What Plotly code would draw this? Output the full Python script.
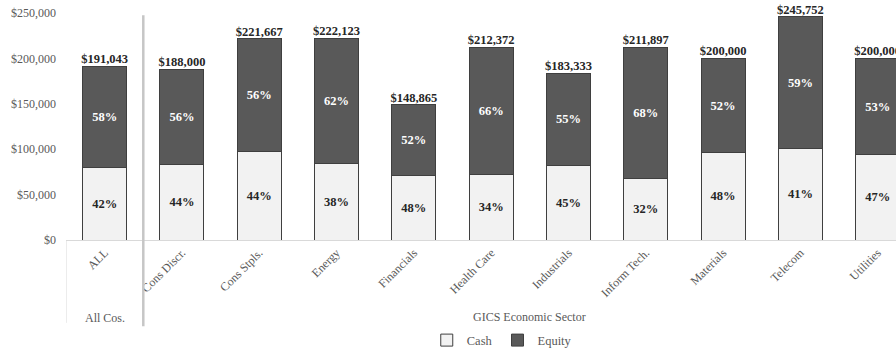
import plotly.graph_objects as go

# Median compensation by GICS sector, split into cash and equity
categories = ["ALL", "Cons Discr.", "Cons Stpls.", "Energy", "Financials", "Health Care",
              "Industrials", "Inform Tech.", "Materials", "Telecom", "Utilities"]
totals = [191043, 188000, 221667, 222123, 148865, 212372, 183333, 211897, 200000, 245752, 200000]
cash_pct = [42, 44, 44, 38, 48, 34, 45, 32, 48, 41, 47]
equity_pct = [58, 56, 56, 62, 52, 66, 55, 68, 52, 59, 53]

cash_vals = [t * c / 100 for t, c in zip(totals, cash_pct)]
equity_vals = [t * e / 100 for t, e in zip(totals, equity_pct)]

SERIF = "Liberation Serif, Times New Roman, serif"
CASH_FILL = "#f2f2f2"
EQUITY_FILL = "#595959"
OUTLINE = "#3f3f3f"
AXIS_TEXT = "#595959"

fig = go.Figure()
fig.add_trace(go.Bar(
    name="Cash", x=categories, y=cash_vals,
    marker=dict(color=CASH_FILL, line=dict(color=OUTLINE, width=1)),
    text=[f"{p}%" for p in cash_pct], textposition="inside", insidetextanchor="middle",
    textfont=dict(family=SERIF, size=12.5, color="#262626", weight="bold"),
    textangle=0, hoverinfo="skip",
))
fig.add_trace(go.Bar(
    name="Equity", x=categories, y=equity_vals,
    marker=dict(color=EQUITY_FILL, line=dict(color=OUTLINE, width=1)),
    text=[f"{p}%" for p in equity_pct], textposition="inside", insidetextanchor="middle",
    textfont=dict(family=SERIF, size=12.5, color="#ffffff", weight="bold"),
    textangle=0, hoverinfo="skip",
))
# Total labels above each stack
fig.add_trace(go.Scatter(
    x=categories, y=totals, mode="text",
    text=[f"${t:,.0f}" for t in totals], textposition="top center",
    textfont=dict(family=SERIF, size=12.5, color="#262626", weight="bold"),
    showlegend=False, hoverinfo="skip", cliponaxis=False,
))

# Group separators below the axis
fig.add_shape(type="line", xref="x", yref="paper", x0=0.5, x1=0.5, y0=-0.38, y1=0.99,
              line=dict(color="#c6c6c6", width=2.5))
fig.add_shape(type="line", xref="x", yref="paper", x0=-0.5, x1=-0.5, y0=-0.365, y1=0,
              line=dict(color="#d9d9d9", width=1))

fig.add_annotation(x=0, y=-0.345, xref="x", yref="paper", text="All Cos.", showarrow=False,
                   font=dict(family=SERIF, size=12, color=AXIS_TEXT), yanchor="middle")
fig.add_annotation(x=5.5, y=-0.34, xref="x", yref="paper", text="GICS Economic Sector", showarrow=False,
                   font=dict(family=SERIF, size=12, color=AXIS_TEXT), yanchor="middle")

fig.update_layout(
    width=896, height=351,
    margin=dict(l=66, r=0, t=13, b=111, autoexpand=False),
    barmode="stack", bargap=0.43,
    plot_bgcolor="white", paper_bgcolor="white",
    font=dict(family=SERIF, color=AXIS_TEXT),
    showlegend=True,
    legend=dict(orientation="h", x=0.525, xanchor="center", yref="container", y=0.03,
                yanchor="middle",
                font=dict(family=SERIF, size=12.5, color=AXIS_TEXT), traceorder="normal",
                itemwidth=30, tracegroupgap=0),
)
fig.update_xaxes(
    type="category", range=[-0.5, 10.237], tickangle=-45, automargin=False,
    tickfont=dict(family=SERIF, size=12, color=AXIS_TEXT),
    showline=True, linecolor="#d9d9d9", linewidth=1, ticks="", showgrid=False,
)
fig.update_yaxes(
    range=[0, 250000], dtick=50000, tickformat="$,.0f", showgrid=False, zeroline=False,
    showline=False, ticks="", ticklabelstandoff=9, automargin=False,
    tickfont=dict(family=SERIF, size=12, color=AXIS_TEXT),
)

fig.write_html("out.html")
